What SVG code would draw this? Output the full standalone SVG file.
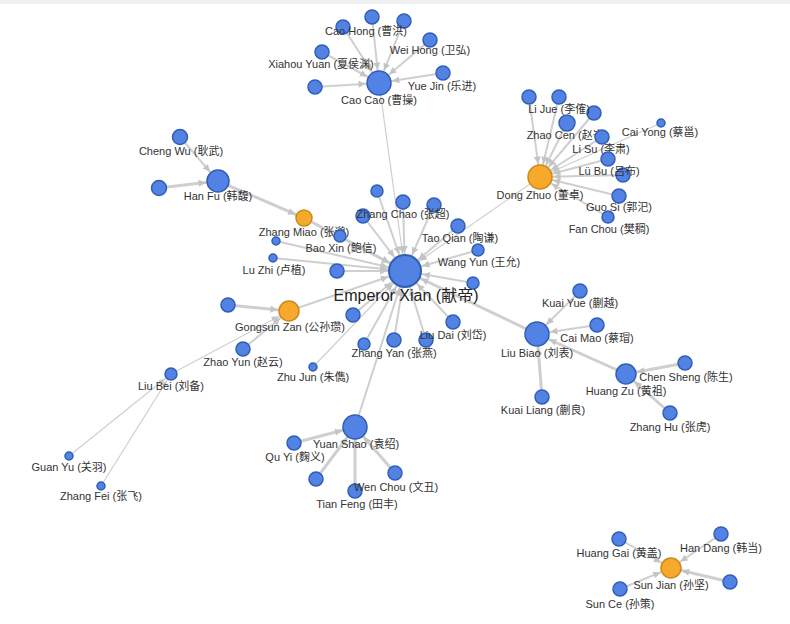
<svg xmlns="http://www.w3.org/2000/svg" width="790" height="624" viewBox="0 0 790 624">
<style>
.e{stroke:#cfcfcf;fill:none;stroke-linecap:round}
.w1{stroke-width:1.2}
.w2{stroke-width:2}
.w3{stroke-width:3}
.b{fill:#5282e4;stroke:#2f5fb5;stroke-width:1.5}
.o{fill:#f6a92a;stroke:#c98a1e;stroke-width:1.5}
text{font-family:"Liberation Sans","Noto Sans CJK SC",Arial,sans-serif;font-size:11px;fill:#333;text-anchor:middle}
.big{font-size:16px;fill:#222}
.ah{fill:#c4c4c4}
</style>
<defs>
<marker id="m16" markerUnits="userSpaceOnUse" markerWidth="8" markerHeight="8" refX="25" refY="0" orient="auto" overflow="visible"><path class="ah" d="M0,-3.5L7,0L0,3.5z"/></marker>
<marker id="m12" markerUnits="userSpaceOnUse" markerWidth="8" markerHeight="8" refX="20.5" refY="0" orient="auto" overflow="visible"><path class="ah" d="M0,-3.5L7,0L0,3.5z"/></marker>
<marker id="m11" markerUnits="userSpaceOnUse" markerWidth="8" markerHeight="8" refX="19.5" refY="0" orient="auto" overflow="visible"><path class="ah" d="M0,-3.5L7,0L0,3.5z"/></marker>
<marker id="m10" markerUnits="userSpaceOnUse" markerWidth="8" markerHeight="8" refX="18.5" refY="0" orient="auto" overflow="visible"><path class="ah" d="M0,-3.5L7,0L0,3.5z"/></marker>
<marker id="m8" markerUnits="userSpaceOnUse" markerWidth="8" markerHeight="8" refX="16.5" refY="0" orient="auto" overflow="visible"><path class="ah" d="M0,-3.5L7,0L0,3.5z"/></marker>
<marker id="m6" markerUnits="userSpaceOnUse" markerWidth="8" markerHeight="8" refX="14" refY="0" orient="auto" overflow="visible"><path class="ah" d="M0,-3L6,0L0,3z"/></marker>
</defs>
<rect x="0" y="0" width="790" height="624" fill="#ffffff"/>
<rect x="0" y="0" width="790" height="4" fill="#f0f0f0"/>
<g id="connectors">
<!-- to Emperor Xian -->
<line class="e w1" x1="379" y1="83" x2="405" y2="271" marker-end="url(#m16)"/>
<line class="e w1" x1="540" y1="177" x2="405" y2="271" marker-end="url(#m16)"/>
<line class="e w3" x1="304" y1="218" x2="405" y2="271" marker-end="url(#m16)"/>
<line class="e w2" x1="340" y1="236" x2="405" y2="271" marker-end="url(#m16)"/>
<line class="e w2" x1="276" y1="241" x2="405" y2="271" marker-end="url(#m16)"/>
<line class="e w2" x1="273" y1="258" x2="405" y2="271" marker-end="url(#m16)"/>
<line class="e w2" x1="337" y1="271" x2="405" y2="271" marker-end="url(#m16)"/>
<line class="e w2" x1="363" y1="216" x2="405" y2="271" marker-end="url(#m16)"/>
<line class="e w2" x1="377" y1="191" x2="405" y2="271" marker-end="url(#m16)"/>
<line class="e w2" x1="403" y1="202" x2="405" y2="271" marker-end="url(#m16)"/>
<line class="e w2" x1="434" y1="205" x2="405" y2="271" marker-end="url(#m16)"/>
<line class="e w2" x1="458" y1="226" x2="405" y2="271" marker-end="url(#m16)"/>
<line class="e w2" x1="478" y1="250" x2="405" y2="271" marker-end="url(#m16)"/>
<line class="e w2" x1="473" y1="283" x2="405" y2="271" marker-end="url(#m16)"/>
<line class="e w2" x1="453" y1="322" x2="405" y2="271" marker-end="url(#m16)"/>
<line class="e w2" x1="426" y1="340" x2="405" y2="271" marker-end="url(#m16)"/>
<line class="e w2" x1="394" y1="340" x2="405" y2="271" marker-end="url(#m16)"/>
<line class="e w2" x1="364" y1="344" x2="405" y2="271" marker-end="url(#m16)"/>
<line class="e w2" x1="353" y1="315" x2="405" y2="271" marker-end="url(#m16)"/>
<line class="e w1" x1="313" y1="367" x2="405" y2="271" marker-end="url(#m16)"/>
<line class="e w2" x1="289" y1="311" x2="405" y2="271" marker-end="url(#m16)"/>
<line class="e w3" x1="537" y1="334" x2="405" y2="271" marker-end="url(#m16)"/>
<line class="e w2" x1="355" y1="427" x2="405" y2="271" marker-end="url(#m16)"/>
<!-- Han Fu -->
<line class="e w3" x1="218" y1="181" x2="304" y2="218" marker-end="url(#m8)"/>
<line class="e w2" x1="180" y1="137" x2="218" y2="181" marker-end="url(#m11)"/>
<line class="e w3" x1="159" y1="188" x2="218" y2="181" marker-end="url(#m11)"/>
<!-- Cao Cao -->
<line class="e w2" x1="372" y1="17" x2="379" y2="83" marker-end="url(#m12)"/>
<line class="e w2" x1="343" y1="27" x2="379" y2="83" marker-end="url(#m12)"/>
<line class="e w2" x1="404" y1="21" x2="379" y2="83" marker-end="url(#m12)"/>
<line class="e w2" x1="430" y1="40" x2="379" y2="83" marker-end="url(#m12)"/>
<line class="e w2" x1="322" y1="52" x2="379" y2="83" marker-end="url(#m12)"/>
<line class="e w2" x1="315" y1="87" x2="379" y2="83" marker-end="url(#m12)"/>
<line class="e w2" x1="443" y1="73" x2="379" y2="83" marker-end="url(#m12)"/>
<!-- Dong Zhuo -->
<line class="e w2" x1="529" y1="97" x2="540" y2="177" marker-end="url(#m12)"/>
<line class="e w2" x1="559" y1="97" x2="540" y2="177" marker-end="url(#m12)"/>
<line class="e w2" x1="594" y1="113" x2="540" y2="177" marker-end="url(#m12)"/>
<line class="e w2" x1="567" y1="123" x2="540" y2="177" marker-end="url(#m12)"/>
<line class="e w1" x1="661" y1="123" x2="540" y2="177" marker-end="url(#m12)"/>
<line class="e w2" x1="602" y1="137" x2="540" y2="177" marker-end="url(#m12)"/>
<line class="e w2" x1="608" y1="159" x2="540" y2="177" marker-end="url(#m12)"/>
<line class="e w2" x1="623" y1="175" x2="540" y2="177" marker-end="url(#m12)"/>
<line class="e w2" x1="619" y1="196" x2="540" y2="177" marker-end="url(#m12)"/>
<line class="e w2" x1="608" y1="217" x2="540" y2="177" marker-end="url(#m12)"/>
<!-- Gongsun Zan -->
<line class="e w3" x1="228" y1="305" x2="289" y2="311" marker-end="url(#m10)"/>
<line class="e w2" x1="243" y1="349" x2="289" y2="311" marker-end="url(#m10)"/>
<line class="e w1" x1="171" y1="374" x2="289" y2="311" marker-end="url(#m10)"/>
<!-- Liu Bei -->
<line class="e w1" x1="69" y1="456" x2="171" y2="374" marker-end="url(#m6)"/>
<line class="e w1" x1="101" y1="486" x2="171" y2="374" marker-end="url(#m6)"/>
<!-- Liu Biao -->
<line class="e w2" x1="580" y1="291" x2="537" y2="334" marker-end="url(#m12)"/>
<line class="e w2" x1="597" y1="325" x2="537" y2="334" marker-end="url(#m12)"/>
<line class="e w3" x1="542" y1="397" x2="537" y2="334" marker-end="url(#m12)"/>
<line class="e w3" x1="626" y1="374" x2="537" y2="334" marker-end="url(#m12)"/>
<!-- Huang Zu -->
<line class="e w3" x1="685" y1="363" x2="626" y2="374" marker-end="url(#m10)"/>
<line class="e w3" x1="670" y1="413" x2="626" y2="374" marker-end="url(#m10)"/>
<!-- Yuan Shao -->
<line class="e w3" x1="294" y1="443" x2="355" y2="427" marker-end="url(#m12)"/>
<line class="e w3" x1="316" y1="479" x2="355" y2="427" marker-end="url(#m12)"/>
<line class="e w3" x1="355" y1="491" x2="355" y2="427" marker-end="url(#m12)"/>
<line class="e w3" x1="395" y1="473" x2="355" y2="427" marker-end="url(#m12)"/>
<!-- Sun Jian -->
<line class="e w2" x1="619" y1="539" x2="671" y2="568" marker-end="url(#m10)"/>
<line class="e w2" x1="721" y1="534" x2="671" y2="568" marker-end="url(#m10)"/>
<line class="e w3" x1="730" y1="582" x2="671" y2="568" marker-end="url(#m10)"/>
<line class="e w2" x1="620" y1="589" x2="671" y2="568" marker-end="url(#m10)"/>
</g>
<g id="node-cc-u1"><circle class="b" cx="343" cy="27" r="7"/></g>
<g id="node-cc-u2"><circle class="b" cx="404" cy="21" r="7"/></g>
<g id="node-cc-u3"><circle class="b" cx="315" cy="87" r="7"/></g>
<g id="node-cao-hong"><circle class="b" cx="372" cy="17" r="7"/><text x="366" y="35">Cao Hong (曹洪)</text></g>
<g id="node-wei-hong"><circle class="b" cx="430" cy="40" r="7"/><text x="430" y="54">Wei Hong (卫弘)</text></g>
<g id="node-xiahou-yuan"><circle class="b" cx="322" cy="52" r="7"/><text x="321" y="68">Xiahou Yuan (夏侯渊)</text></g>
<g id="node-yue-jin"><circle class="b" cx="443" cy="73" r="7"/><text x="442" y="90">Yue Jin (乐进)</text></g>
<g id="node-cao-cao"><circle class="b" cx="379" cy="83" r="12"/><text x="379" y="104">Cao Cao (曹操)</text></g>
<g id="node-dz-u1"><circle class="b" cx="529" cy="97" r="7"/></g>
<g id="node-dz-u2"><circle class="b" cx="594" cy="113" r="7"/></g>
<g id="node-dz-u3"><circle class="b" cx="623" cy="175" r="7"/></g>
<g id="node-li-jue"><circle class="b" cx="559" cy="97" r="7"/><text x="559" y="113">Li Jue (李傕)</text></g>
<g id="node-zhao-cen"><circle class="b" cx="567" cy="123" r="8"/><text x="567" y="139">Zhao Cen (赵岑)</text></g>
<g id="node-cai-yong"><circle class="b" cx="661" cy="123" r="4"/><text x="660" y="136">Cai Yong (蔡邕)</text></g>
<g id="node-li-su"><circle class="b" cx="602" cy="137" r="7"/><text x="601" y="153">Li Su (李肃)</text></g>
<g id="node-lu-bu"><circle class="b" cx="608" cy="159" r="7"/><text x="609" y="175">Lü Bu (吕布)</text></g>
<g id="node-guo-si"><circle class="b" cx="619" cy="196" r="7"/><text x="619" y="211">Guo Si (郭汜)</text></g>
<g id="node-fan-chou"><circle class="b" cx="608" cy="217" r="6"/><text x="609" y="233">Fan Chou (樊稠)</text></g>
<g id="node-dong-zhuo"><circle class="o" cx="540" cy="177" r="12"/><text x="540" y="199">Dong Zhuo (董卓)</text></g>
<g id="node-cheng-wu"><circle class="b" cx="180" cy="137" r="7.5"/><text x="181" y="155">Cheng Wu (耿武)</text></g>
<g id="node-hf-u1"><circle class="b" cx="159" cy="188" r="7.5"/></g>
<g id="node-han-fu"><circle class="b" cx="218" cy="181" r="11"/><text x="218" y="200">Han Fu (韩馥)</text></g>
<g id="node-zhang-miao"><circle class="o" cx="304" cy="218" r="8"/><text x="304" y="236">Zhang Miao (张邈)</text></g>
<g id="node-ex-u3"><circle class="b" cx="363" cy="216" r="7"/></g>
<g id="node-ex-u4"><circle class="b" cx="377" cy="191" r="6"/></g>
<g id="node-ex-u5"><circle class="b" cx="434" cy="205" r="7"/></g>
<g id="node-zhang-chao"><circle class="b" cx="403" cy="202" r="7"/><text x="403" y="218">Zhang Chao (张超)</text></g>
<g id="node-bao-xin"><circle class="b" cx="340" cy="236" r="6"/><text x="341" y="252">Bao Xin (鲍信)</text></g>
<g id="node-ex-u1"><circle class="b" cx="276" cy="241" r="4"/></g>
<g id="node-lu-zhi"><circle class="b" cx="273" cy="258" r="4"/><text x="274" y="274">Lu Zhi (卢植)</text></g>
<g id="node-ex-u2"><circle class="b" cx="337" cy="271" r="7"/></g>
<g id="node-tao-qian"><circle class="b" cx="458" cy="226" r="7"/><text x="460" y="242">Tao Qian (陶谦)</text></g>
<g id="node-wang-yun"><circle class="b" cx="478" cy="250" r="6"/><text x="479" y="266">Wang Yun (王允)</text></g>
<g id="node-ex-u6"><circle class="b" cx="473" cy="283" r="6"/></g>
<g id="node-ex-u7"><circle class="b" cx="426" cy="340" r="7"/></g>
<g id="node-ex-u8"><circle class="b" cx="364" cy="344" r="6"/></g>
<g id="node-ex-u9"><circle class="b" cx="353" cy="315" r="7"/></g>
<g id="node-liu-dai"><circle class="b" cx="453" cy="322" r="7"/><text x="453" y="339">Liu Dai (刘岱)</text></g>
<g id="node-zhang-yan"><circle class="b" cx="394" cy="340" r="7"/><text x="394" y="357">Zhang Yan (张燕)</text></g>
<g id="node-zhu-jun"><circle class="b" cx="313" cy="367" r="4"/><text x="313" y="381">Zhu Jun (朱儁)</text></g>
<g id="node-emperor-xian"><circle class="b" cx="405" cy="271" r="16" style="stroke-width:2"/><text class="big" x="406" y="301">Emperor Xian (献帝)</text></g>
<g id="node-gz-u1"><circle class="b" cx="228" cy="305" r="7"/></g>
<g id="node-gongsun-zan"><circle class="o" cx="289" cy="311" r="10"/><text x="290" y="331">Gongsun Zan (公孙瓒)</text></g>
<g id="node-zhao-yun"><circle class="b" cx="243" cy="349" r="7"/><text x="243" y="366">Zhao Yun (赵云)</text></g>
<g id="node-liu-bei"><circle class="b" cx="171" cy="374" r="6"/><text x="171" y="390">Liu Bei (刘备)</text></g>
<g id="node-guan-yu"><circle class="b" cx="69" cy="456" r="4"/><text x="69" y="471">Guan Yu (关羽)</text></g>
<g id="node-zhang-fei"><circle class="b" cx="101" cy="486" r="4"/><text x="101" y="500">Zhang Fei (张飞)</text></g>
<g id="node-kuai-yue"><circle class="b" cx="580" cy="291" r="7"/><text x="580" y="307">Kuai Yue (蒯越)</text></g>
<g id="node-cai-mao"><circle class="b" cx="597" cy="325" r="7"/><text x="597" y="342">Cai Mao (蔡瑁)</text></g>
<g id="node-liu-biao"><circle class="b" cx="537" cy="334" r="12"/><text x="537" y="357">Liu Biao (刘表)</text></g>
<g id="node-kuai-liang"><circle class="b" cx="542" cy="397" r="7"/><text x="543" y="414">Kuai Liang (蒯良)</text></g>
<g id="node-huang-zu"><circle class="b" cx="626" cy="374" r="10"/><text x="626" y="395">Huang Zu (黄祖)</text></g>
<g id="node-chen-sheng"><circle class="b" cx="685" cy="363" r="7"/><text x="686" y="381">Chen Sheng (陈生)</text></g>
<g id="node-zhang-hu"><circle class="b" cx="670" cy="413" r="7"/><text x="670" y="431">Zhang Hu (张虎)</text></g>
<g id="node-yuan-shao"><circle class="b" cx="355" cy="427" r="12"/><text x="356" y="448">Yuan Shao (袁绍)</text></g>
<g id="node-qu-yi"><circle class="b" cx="294" cy="443" r="7"/><text x="295" y="461">Qu Yi (麴义)</text></g>
<g id="node-ys-u1"><circle class="b" cx="316" cy="479" r="7"/></g>
<g id="node-tian-feng"><circle class="b" cx="355" cy="491" r="7"/><text x="357" y="508">Tian Feng (田丰)</text></g>
<g id="node-wen-chou"><circle class="b" cx="395" cy="473" r="7"/><text x="396" y="491">Wen Chou (文丑)</text></g>
<g id="node-huang-gai"><circle class="b" cx="619" cy="539" r="7"/><text x="619" y="557">Huang Gai (黄盖)</text></g>
<g id="node-han-dang"><circle class="b" cx="721" cy="534" r="7"/><text x="721" y="552">Han Dang (韩当)</text></g>
<g id="node-sj-u1"><circle class="b" cx="730" cy="582" r="7"/></g>
<g id="node-sun-jian"><circle class="o" cx="671" cy="568" r="10"/><text x="671" y="589">Sun Jian (孙坚)</text></g>
<g id="node-sun-ce"><circle class="b" cx="620" cy="589" r="7"/><text x="620" y="608">Sun Ce (孙策)</text></g>
</svg>
